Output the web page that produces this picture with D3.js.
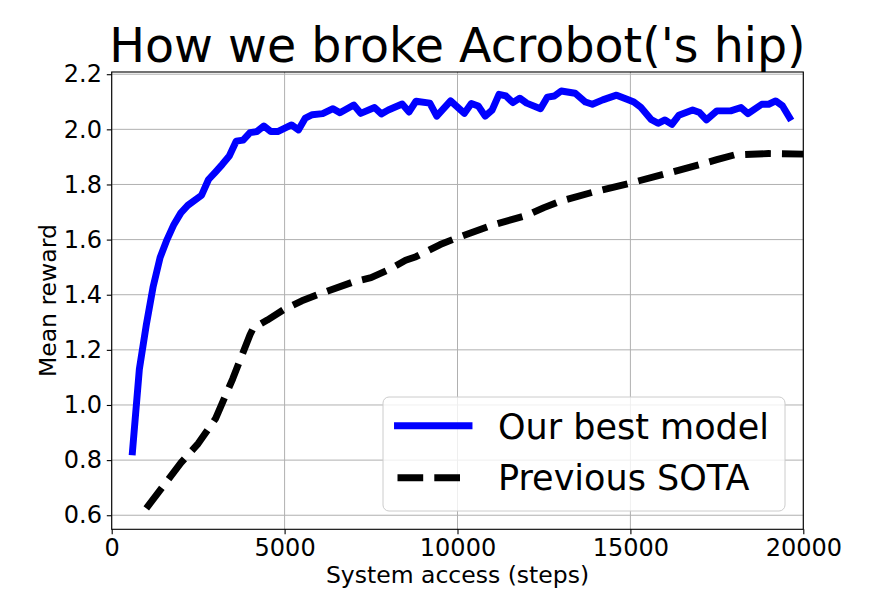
<!DOCTYPE html>
<html>
<head>
<meta charset="utf-8">
<script src="https://cdnjs.cloudflare.com/ajax/libs/d3/7.8.5/d3.min.js"></script>
<style>
body { margin: 0; background: #fff; }
text { font-family: "DejaVu Sans", sans-serif; fill: #000; }
</style>
</head>
<body>
<div class="chart"></div>
<script>
// values
var bestSteps = [600, 800, 1000, 1200, 1400, 1600, 1800, 2000, 2200, 2600, 2800, 3000, 3200, 3400, 3600, 3800,
    4000, 4200, 4400, 4600, 4800, 5200, 5400, 5600, 5800, 6100, 6400, 6600, 7000, 7200, 7600, 7800,
    8000, 8400, 8600, 8800, 9200, 9400, 9800, 10200, 10400, 10600, 10800, 11000, 11200, 11400, 11600,
    11800, 12000, 12400, 12600, 12800, 13000, 13400, 13700, 13900, 14200, 14600, 14900, 15100, 15300,
    15600, 15800, 16000, 16200, 16400, 16800, 17000, 17200, 17500, 17900, 18200, 18400, 18800, 19000,
    19200, 19400, 19600];
var bestReward = [0.83, 1.13, 1.29, 1.43, 1.535, 1.60, 1.655, 1.697, 1.724, 1.761, 1.818, 1.845, 1.873, 1.903, 1.957, 1.961,
    1.988, 1.992, 2.012, 1.992, 1.992, 2.016, 1.998, 2.041, 2.053, 2.057, 2.075, 2.06, 2.088, 2.058, 2.079, 2.056,
    2.07, 2.092, 2.063, 2.102, 2.095, 2.048, 2.103, 2.058, 2.094, 2.085, 2.048, 2.07, 2.127, 2.121, 2.097,
    2.113, 2.095, 2.075, 2.117, 2.121, 2.139, 2.131, 2.099, 2.091, 2.107, 2.124, 2.109, 2.099, 2.08,
    2.036, 2.022, 2.034, 2.018, 2.051, 2.07, 2.061, 2.034, 2.067, 2.067, 2.079, 2.057, 2.091, 2.091,
    2.103, 2.085, 2.043];

var sotaSteps = [1000, 2000, 2500, 3000, 3500, 4000, 4100, 4500, 5000, 5500, 6000, 7000, 7500, 8000, 8500, 8800,
    9500, 10000, 11000, 12000, 12500, 13000, 14000, 15000, 16000, 17000, 17500, 18000, 19000, 20000];
var sotaReward = [0.625, 0.79, 0.86, 0.95, 1.095, 1.255, 1.28, 1.308, 1.348, 1.378, 1.402, 1.447, 1.462, 1.49, 1.525, 1.538,
    1.582, 1.607, 1.652, 1.688, 1.716, 1.74, 1.775, 1.805, 1.838, 1.872, 1.89, 1.907, 1.912, 1.91];

var seriesNames = ["Our best model", "Previous SOTA"];
var xTicks = [0, 5000, 10000, 15000, 20000];
var yTicks = [0.6, 0.8, 1.0, 1.2, 1.4, 1.6, 1.8, 2.0, 2.2];

var width = 892, height = 595;
var plotLeft = 111.7, plotRight = 803.3, plotTop = 72, plotBottom = 529.3;

var svg = d3.select("div.chart").append("svg")
    .attr("width", width)
    .attr("height", height);

var x = d3.scaleLinear().domain([0, 20000]).range([plotLeft, plotRight]);
var y = d3.scaleLinear().domain([0.549, 2.208]).range([plotBottom, plotTop]);

// grid
svg.append("g").selectAll("line.vgrid").data(xTicks).enter().append("line")
    .attr("x1", function(d) { return x(d); }).attr("x2", function(d) { return x(d); })
    .attr("y1", plotTop).attr("y2", plotBottom)
    .attr("stroke", "#b0b0b0").attr("stroke-width", 1);
svg.append("g").selectAll("line.hgrid").data(yTicks).enter().append("line")
    .attr("y1", function(d) { return y(d); }).attr("y2", function(d) { return y(d); })
    .attr("x1", plotLeft).attr("x2", plotRight)
    .attr("stroke", "#b0b0b0").attr("stroke-width", 1);

svg.append("clipPath").attr("id", "plotclip").append("rect")
    .attr("x", plotLeft).attr("y", plotTop)
    .attr("width", plotRight - plotLeft).attr("height", plotBottom - plotTop);

var line = d3.line()
    .x(function(d) { return x(d[0]); })
    .y(function(d) { return y(d[1]); });

var best = d3.zip(bestSteps, bestReward);
var sota = d3.zip(sotaSteps, sotaReward);

svg.append("path")
    .datum(sota)
    .attr("clip-path", "url(#plotclip)")
    .attr("d", line)
    .attr("fill", "none")
    .attr("stroke", "#000")
    .attr("stroke-width", 6.94)
    .attr("stroke-dasharray", "25.7 11.1")
    .attr("stroke-linejoin", "round");

svg.append("path")
    .datum(best)
    .attr("clip-path", "url(#plotclip)")
    .attr("d", line)
    .attr("fill", "none")
    .attr("stroke", "#0000ff")
    .attr("stroke-width", 6.94)
    .attr("stroke-linejoin", "round")
    .attr("stroke-linecap", "square");

// axes
var xAxis = d3.axisBottom(x).tickValues(xTicks).tickSize(4.9).tickPadding(4.9)
    .tickFormat(d3.format("d"));
var yAxis = d3.axisLeft(y).tickValues(yTicks).tickSize(4.9).tickPadding(4.9)
    .tickFormat(d3.format(".1f"));

var gx = svg.append("g").attr("transform", "translate(0," + plotBottom + ")").call(xAxis);
var gy = svg.append("g").attr("transform", "translate(" + plotLeft + ",0)").call(yAxis);
[gx, gy].forEach(function(g) {
    g.select(".domain").remove();
    g.selectAll("line").attr("stroke", "#000").attr("stroke-width", 1.1);
    g.selectAll("text").attr("font-size", "24px").attr("font-family", "DejaVu Sans").attr("fill", "#000");
});

// spines
svg.append("rect")
    .attr("x", plotLeft).attr("y", plotTop)
    .attr("width", plotRight - plotLeft).attr("height", plotBottom - plotTop)
    .attr("fill", "none").attr("stroke", "#000").attr("stroke-width", 1.1);

// labels
svg.append("text")
    .attr("x", (plotLeft + plotRight) / 2).attr("y", 583)
    .attr("text-anchor", "middle")
    .attr("font-size", "23.5px")
    .text("System access (steps)");

svg.append("text")
    .attr("transform", "translate(56," + ((plotTop + plotBottom) / 2) + ") rotate(-90)")
    .attr("text-anchor", "middle")
    .attr("font-size", "23.5px")
    .text("Mean reward");

svg.append("text")
    .attr("x", (plotLeft + plotRight) / 2).attr("y", 62)
    .attr("text-anchor", "middle")
    .attr("font-size", "47.5px")
    .text("How we broke Acrobot('s hip)");

// legend
var legend = svg.append("g");
legend.append("rect")
    .attr("x", 383).attr("y", 397).attr("width", 402).attr("height", 114)
    .attr("rx", 6).attr("ry", 6)
    .attr("fill", "#fff").attr("fill-opacity", 0.8)
    .attr("stroke", "#cccccc").attr("stroke-width", 1);

var legendRows = [
    { name: seriesNames[0], color: "#0000ff", dash: null, y: 425.7, ty: 439 },
    { name: seriesNames[1], color: "#000", dash: "25.7 11.1", y: 477.7, ty: 490 }
];
legendRows.forEach(function(r) {
    var l = legend.append("line")
        .attr("x1", 397.5).attr("x2", 469)
        .attr("y1", r.y).attr("y2", r.y)
        .attr("stroke", r.color).attr("stroke-width", 6.94);
    if (r.dash) l.attr("stroke-dasharray", r.dash);
    else l.attr("stroke-linecap", "square");
    legend.append("text")
        .attr("x", 498).attr("y", r.ty)
        .attr("font-size", "35px")
        .text(r.name);
});
</script>
</body>
</html>
